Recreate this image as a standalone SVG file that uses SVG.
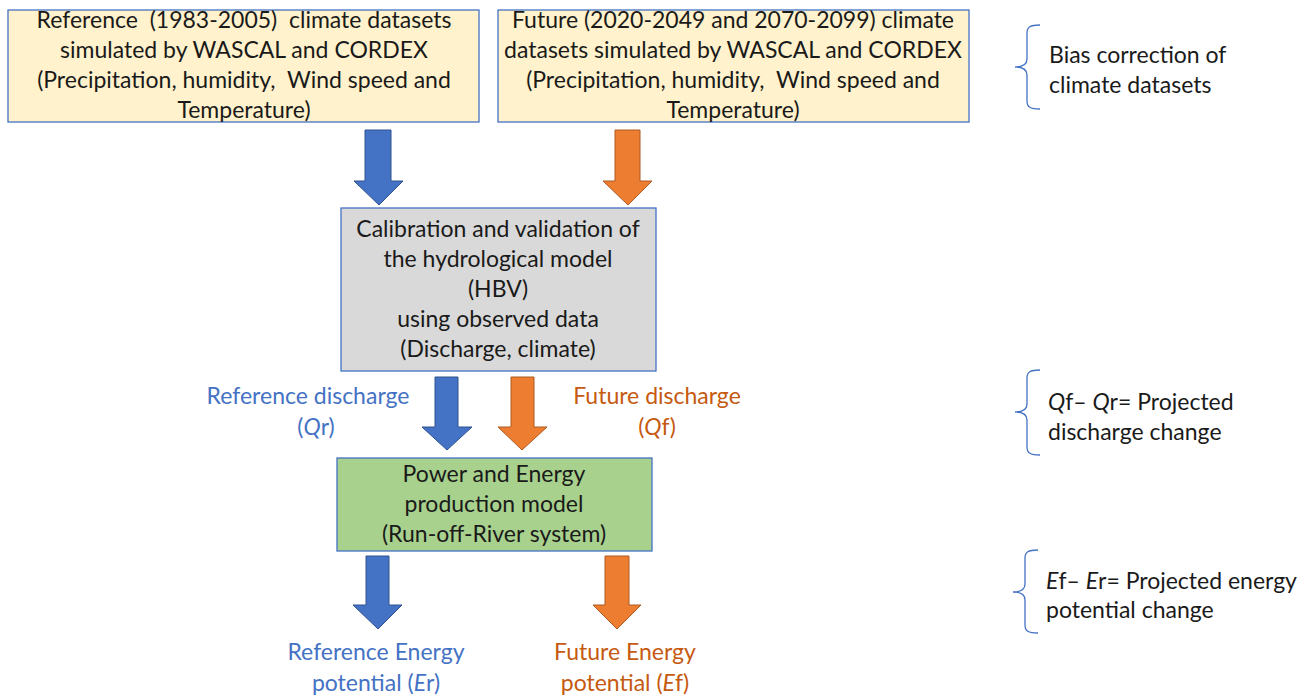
<svg xmlns="http://www.w3.org/2000/svg" width="1312" height="699" viewBox="0 0 1312 699">
<style>
text{font-family:"Lato","Liberation Sans",sans-serif;font-size:23px;fill:#1a1a1a;white-space:pre}
.c{text-anchor:middle}
.b{fill:#4472C4}
.o{fill:#C55A11}
.box{stroke:#4472C4;stroke-width:1.3}
.ab{fill:#4472C4;stroke:#2F528F;stroke-width:1}
.ao{fill:#ED7D31;stroke:#AE5A21;stroke-width:1}
.br{fill:none;stroke:#4472C4;stroke-width:1.3}
</style>
<rect width="1312" height="699" fill="#fff"/>
<g id="ref-data">
<rect class="box" x="8" y="10" width="471" height="112" fill="#FFF2CC"/>
<text class="c" x="244" y="28">Reference  (1983-2005)  climate datasets</text>
<text class="c" x="244" y="58">simulated by WASCAL and CORDEX</text>
<text class="c" x="244" y="88">(Precipitation, humidity,  Wind speed and</text>
<text class="c" x="244" y="118">Temperature)</text>
</g>
<g id="fut-data">
<rect class="box" x="498" y="10" width="471" height="112" fill="#FFF2CC"/>
<text class="c" x="733" y="28">Future (2020-2049 and 2070-2099) climate</text>
<text class="c" x="733" y="58">datasets simulated by WASCAL and CORDEX</text>
<text class="c" x="733" y="88">(Precipitation, humidity,  Wind speed and</text>
<text class="c" x="733" y="118">Temperature)</text>
</g>
<g id="hbv">
<rect class="box" x="341" y="208" width="315" height="163" fill="#D9D9D9"/>
<text class="c" x="498" y="237">Calibration and validation of</text>
<text class="c" x="498" y="267">the hydrological model</text>
<text class="c" x="498" y="297">(HBV)</text>
<text class="c" x="498" y="327">using observed data</text>
<text class="c" x="498" y="357">(Discharge, climate)</text>
</g>
<g id="energy-model">
<rect class="box" x="337" y="458" width="315" height="93" fill="#A9D18E"/>
<text class="c" x="494" y="482">Power and Energy</text>
<text class="c" x="494" y="512">production model</text>
<text class="c" x="494" y="542">(Run-off-River system)</text>
</g>
<g id="connectors">
<path class="ab" d="M365,130H391V181H403L379,205L354,181H365Z"/>
<path class="ao" d="M615,130H640V181H652L628,205L603,181H615Z"/>
<path class="ab" d="M435,377H458V427H472L447,450L422,427H435Z"/>
<path class="ao" d="M511,377H534V427H547L522,450L498,427H511Z"/>
<path class="ab" d="M366,556H389V605H402L378,629L353,605H366Z"/>
<path class="ao" d="M605,556H629V605H641L617,629L593,605H605Z"/>
</g>
<g id="labels">
<text class="c b" x="308" y="404">Reference discharge</text>
<text class="c b" x="316" y="435">(<tspan font-style="italic">Q</tspan>r)</text>
<text class="c o" x="657" y="404">Future discharge</text>
<text class="c o" x="657" y="435">(<tspan font-style="italic">Q</tspan>f)</text>
<text class="c b" x="376" y="660">Reference Energy</text>
<text class="c b" x="376" y="691">potential (<tspan font-style="italic">E</tspan>r)</text>
<text class="c o" x="625" y="660">Future Energy</text>
<text class="c o" x="625" y="691">potential (<tspan font-style="italic">E</tspan>f)</text>
</g>
<g id="bias-note">
<path class="br" d="M1040,25C1030,25 1027,27 1027,33V59C1027,65 1023,67 1015,67C1023,67 1027,69 1027,75V101C1027,107 1030,109 1040,109"/>
<text x="1049" y="63">Bias correction of</text>
<text x="1049" y="93">climate datasets</text>
</g>
<g id="discharge-note">
<path class="br" d="M1040,370C1030,370 1027,372 1027,378V404C1027,410 1023,412 1015,412C1023,412 1027,414 1027,420V447C1027,453 1030,455 1040,455"/>
<text x="1048" y="410"><tspan font-style="italic">Q</tspan>f– <tspan font-style="italic">Q</tspan>r= Projected</text>
<text x="1048" y="440">discharge change</text>
</g>
<g id="energy-note">
<path class="br" d="M1038,550C1028,550 1025,552 1025,558V584C1025,590 1021,592 1013,592C1021,592 1025,594 1025,600V625C1025,631 1028,633 1038,633"/>
<text x="1046" y="589"><tspan font-style="italic">E</tspan>f– <tspan font-style="italic">E</tspan>r= Projected energy</text>
<text x="1046" y="618">potential change</text>
</g>
</svg>
